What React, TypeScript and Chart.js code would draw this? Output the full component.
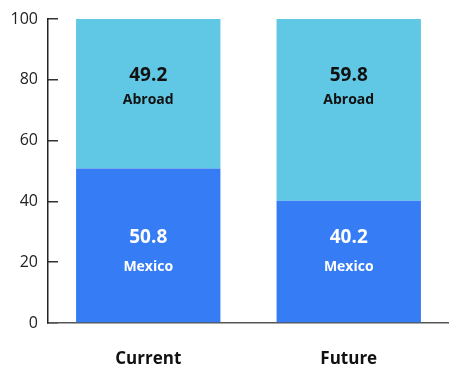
import React, { useEffect, useRef } from "react";
import { Chart, registerables } from "chart.js";

Chart.register(...registerables);

const categories = ["Current", "Future"];
const mexicoValues = [50.8, 40.2];
const abroadValues = [49.2, 59.8];
const seriesNames = ["Mexico", "Abroad"];

const MEXICO_COLOR = "#367cf5";
const ABROAD_COLOR = "#60c8e4";
const FONT = "'Open Sans', 'DejaVu Sans', sans-serif";

// label anchors (value units) for number and name within each series
const labelAnchors = [
  { num: 28, name: 18.5, color: "#ffffff" },
  { num: 81.3, name: 73.4, color: "#111111" },
];

const labelPlugin = {
  id: "barLabels",
  afterDatasetsDraw(chart: any) {
    const { ctx, scales } = chart;
    const y = scales.y;
    ctx.save();
    ctx.textAlign = "center";
    ctx.textBaseline = "middle";
    chart.data.datasets.forEach((ds: any, di: number) => {
      const meta = chart.getDatasetMeta(di);
      const a = labelAnchors[di];
      meta.data.forEach((bar: any, i: number) => {
        const v = ds.data[i];
        ctx.fillStyle = a.color;
        ctx.font = `bold 19px ${FONT}`;
        ctx.fillText(v.toFixed(1), bar.x, y.getPixelForValue(a.num));
        ctx.font = `bold 14px ${FONT}`;
        ctx.fillText(ds.label, bar.x, y.getPixelForValue(a.name));
      });
    });
    ctx.restore();
  },
};

export default function App() {
  const ref = useRef<HTMLCanvasElement>(null);
  useEffect(() => {
    if (!ref.current) return;
    const chart = new Chart(ref.current, {
      type: "bar",
      data: {
        labels: categories,
        datasets: [
          { label: seriesNames[0], data: mexicoValues, backgroundColor: MEXICO_COLOR },
          { label: seriesNames[1], data: abroadValues, backgroundColor: ABROAD_COLOR },
        ],
      },
      options: {
        animation: false,
        responsive: false,
        maintainAspectRatio: false,
        layout: { padding: { top: 19, right: 0, left: 0, bottom: 0 } },
        datasets: { bar: { categoryPercentage: 0.8, barPercentage: 0.9 } },
        plugins: { legend: { display: false }, tooltip: { enabled: false } },
        scales: {
          x: {
            stacked: true,
            grid: { display: false, drawTicks: false },
            border: { display: true, color: "#555", width: 1.5 },
            ticks: { color: "#111", font: { family: FONT, size: 17, weight: "bold" }, padding: 26 },
            afterFit: (s: any) => { s.height = 46; },
          },
          y: {
            stacked: true,
            min: 0,
            max: 100,
            grid: {
              display: true,
              drawOnChartArea: false,
              drawTicks: true,
              tickLength: -10,
              color: "#333",
              lineWidth: 1.5,
            },
            border: { display: true, color: "#222", width: 1.5 },
            ticks: { stepSize: 20, color: "#222", font: { family: FONT, size: 16 }, padding: 20 },
            afterFit: (s: any) => {
              s.width = 48;
              s.paddingTop = 0;
              s.paddingBottom = 0;
            },
          },
        },
      },
      plugins: [labelPlugin],
    });
    return () => chart.destroy();
  }, []);
  return (
    <div style={{ position: "absolute", left: 0, top: 0, width: 449, height: 369 }}>
      <canvas ref={ref} width={449} height={369} />
    </div>
  );
}
